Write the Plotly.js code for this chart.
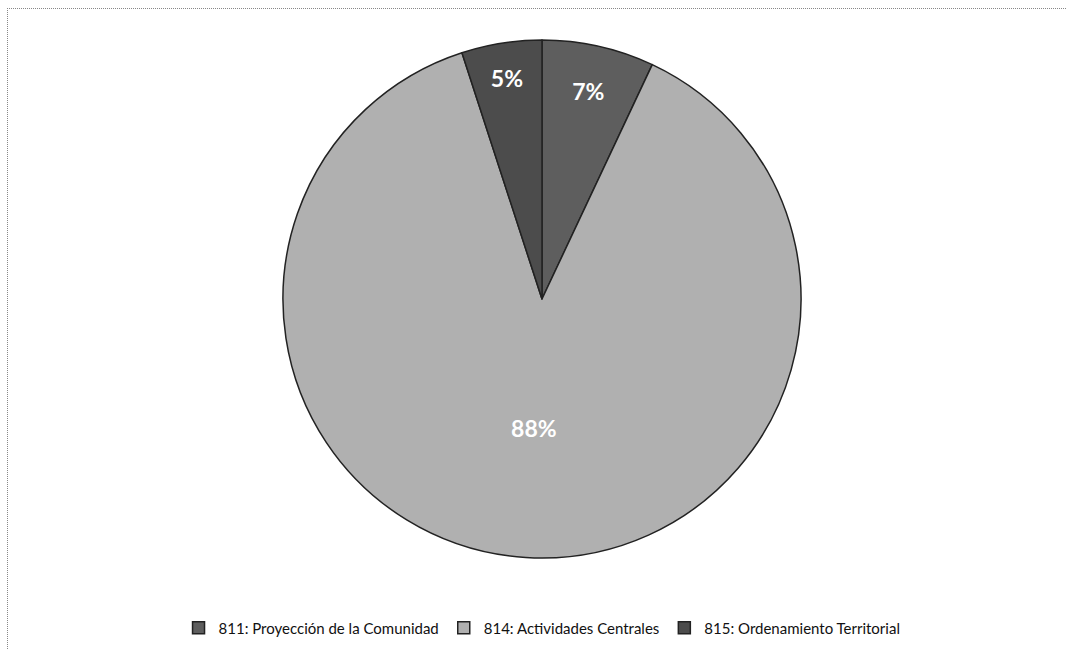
<!DOCTYPE html>
<html>
<head>
<meta charset="utf-8">
<script src="https://cdn.plot.ly/plotly-3.0.1.min.js"></script>
<style>
  body { margin: 0; background: #fff; }
  #frame { position: absolute; left: 7px; top: 8px; width: 1060px; height: 660px; border-top: 1px dotted #888; border-left: 1px dotted #888; }
  #chart { position: absolute; left: 0; top: 0; width: 1067px; height: 650px; }
</style>
</head>
<body>
<div id="frame"></div>
<div id="chart"></div>
<script>
// budget share by program
var programs = ["811: Proyección de la Comunidad", "814: Actividades Centrales", "815: Ordenamiento Territorial"];
var shares = [7, 88, 5];
var sliceColors = ["#5e5e5e", "#b0b0b0", "#4c4c4c"];

var trace = {
    type: "pie",
    labels: programs,
    values: shares,
    sort: false,
    direction: "clockwise",
    rotation: 0,
    textinfo: "percent",
    texttemplate: "%{percent:.0%}",
    textposition: "inside",
    insidetextorientation: "horizontal",
    textfont: {family: "Lato, sans-serif", size: 23, color: "#ffffff", weight: "bold"},
    marker: {colors: sliceColors, line: {color: "#222", width: 1.5}},
    domain: {x: [0.2652, 0.7507], y: [0.1415, 0.9385]},
    hoverinfo: "label+percent"
};

var layout = {
    width: 1067,
    height: 650,
    margin: {l: 0, r: 0, t: 0, b: 0},
    paper_bgcolor: "rgba(0,0,0,0)",
    showlegend: true,
    legend: {
        orientation: "h",
        x: 0.508, xanchor: "center",
        y: 0.034, yanchor: "middle",
        font: {family: "Lato, sans-serif", size: 15, color: "#111"},
        itemwidth: 30,
        tracegroupgap: 0
    }
};

Plotly.newPlot("chart", [trace], layout, {displayModeBar: false});
</script>
</body>
</html>
